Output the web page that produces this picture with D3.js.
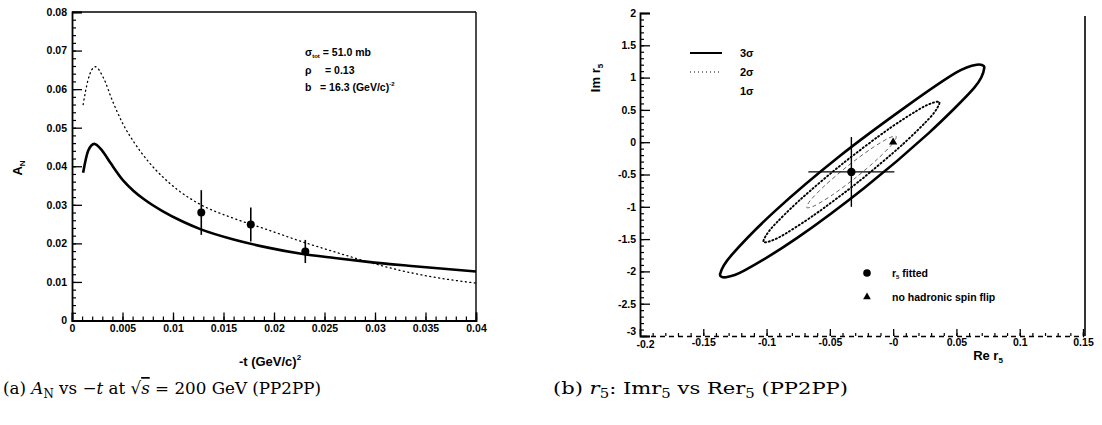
<!DOCTYPE html>
<html><head><meta charset="utf-8">
<script src="https://cdn.jsdelivr.net/npm/d3@7"></script>
<style>
body{margin:0;background:#fff;}
svg{display:block;}
.tk text{font-family:"Liberation Sans",Arial,sans-serif;font-weight:bold;font-size:10.5px;fill:#000;}
.lbl{font-family:"Liberation Sans",Arial,sans-serif;font-weight:bold;fill:#000;}
.cap{font-family:"DejaVu Serif","Liberation Serif",serif;font-size:17px;fill:#000;}
</style></head><body>
<script>
// ---------- Panel (a): A_N vs -t ----------
const aXTicks = [0,0.005,0.01,0.015,0.02,0.025,0.03,0.035,0.04];
const aXTickLabels = ["0","0.005","0.01","0.015","0.02","0.025","0.03","0.035","0.04"];
const aYTicks = [0,0.01,0.02,0.03,0.04,0.05,0.06,0.07,0.08];
const aYTickLabels = ["0","0.01","0.02","0.03","0.04","0.05","0.06","0.07","0.08"];
// theory curve (solid)
const curveSolid = [[0.0011,0.0383],[0.0016,0.0440],[0.0022,0.0458],[0.0030,0.0440],[0.0038,0.0409],[0.0051,0.0362],[0.0061,0.0336],[0.0071,0.0315],[0.0090,0.0283],[0.0110,0.0256],[0.0127,0.0237],[0.0160,0.0210],[0.0194,0.0189],[0.0227,0.0173],[0.0260,0.0162],[0.0293,0.0152],[0.0333,0.0142],[0.0368,0.0134],[0.0400,0.0127]];
// theory curve (dotted)
const curveDotted = [[0.0011,0.0560],[0.0016,0.0625],[0.0023,0.0658],[0.0031,0.0630],[0.0040,0.0570],[0.0050,0.0512],[0.0062,0.0460],[0.0075,0.0414],[0.0090,0.0372],[0.0105,0.0338],[0.0127,0.0301],[0.0160,0.0265],[0.0194,0.0235],[0.0227,0.0205],[0.0260,0.0178],[0.0293,0.0152],[0.0325,0.0130],[0.0357,0.0113],[0.0400,0.0097]];
// measured points
const ptT = [0.0128,0.0177,0.0231];
const ptAN = [0.0280,0.0249,0.0179];
const ptErr = [0.0058,0.0044,0.0030];
const annot = ["σ","tot"," = 51.0 mb","ρ","= 0.13","b","= 16.3 (GeV/c)","-2"];

// ---------- Panel (b): Im r5 vs Re r5 ----------
const bXTicks = [-0.2,-0.15,-0.1,-0.05,0,0.05,0.1,0.15];
const bXTickLabels = ["-0.2","-0.15","-0.1","-0.05","-0","0.05","0.1","0.15"];
const bYTicks = [2,1.5,1,0.5,0,-0.5,-1,-1.5,-2,-2.5,-3];
const bYTickLabels = ["2","1.5","1","0.5","0","-0.5","-1","-1.5","-2","-2.5","-3"];
const contour3 = [[0.0720,1.150],[0.0640,0.840],[0.0281,0.141],[-0.0226,-0.704],[-0.0761,-1.485],[-0.1177,-1.989],[-0.1320,-2.090],[-0.1367,-2.040],[-0.1277,-1.748],[-0.0932,-1.063],[-0.0424,-0.218],[0.0110,0.562],[0.0500,1.080],[0.0660,1.200]];
const contour2 = [[0.0365,0.622],[0.0302,0.404],[0.0069,-0.045],[-0.0270,-0.607],[-0.0625,-1.128],[-0.0900,-1.472],[-0.1024,-1.545],[-0.0960,-1.327],[-0.0728,-0.878],[-0.0389,-0.316],[-0.0034,0.206],[0.0242,0.550]];
const contour1 = [[0.0024,0.090],[-0.0005,-0.025],[-0.0123,-0.260],[-0.0294,-0.546],[-0.0476,-0.811],[-0.0618,-0.981],[-0.0682,-1.012],[-0.0653,-0.898],[-0.0536,-0.664],[-0.0364,-0.376],[-0.0183,-0.113],[-0.0040,0.059]];
const fitted = {re:-0.033, im:-0.46, reErr:0.034, imErr:0.54};
const noFlip = {re:0.0, im:0.0};
const sigmaLegend = ["3σ","2σ","1σ"];
const markerLegend = ["fitted","no hadronic spin flip"];

const W=1102,H=425;
const svg=d3.select("body").append("svg").attr("width",W).attr("height",H);

// ====== Panel A ======
const xA=d3.scaleLinear().domain([0,0.04]).range([72,476]);
const yA=d3.scaleLinear().domain([0,0.08]).range([320.5,12]);
const gA=svg.append("g");
gA.append("line").attr("x1",xA(0)).attr("x2",xA(0.04)).attr("y1",yA(0.08)).attr("y2",yA(0.08)).attr("stroke","#000").attr("stroke-width",1.4);
gA.append("line").attr("x1",xA(0.04)).attr("x2",xA(0.04)).attr("y1",yA(0.08)).attr("y2",yA(0)).attr("stroke","#000").attr("stroke-width",1.4);
const aXMinor=d3.range(0,41).map(i=>i*0.001);
const aYMinor=d3.range(0,41).map(i=>i*0.002);
gA.append("g").attr("transform",`translate(0,${yA(0)})`)
  .call(d3.axisBottom(xA).tickValues(aXMinor).tickSize(-4).tickFormat(""))
  .call(g=>g.select(".domain").remove()).selectAll("line").attr("stroke-width",1.2);
gA.append("g").attr("transform",`translate(${xA(0)},0)`)
  .call(d3.axisLeft(yA).tickValues(aYMinor).tickSize(-4).tickFormat(""))
  .call(g=>g.select(".domain").remove()).selectAll("line").attr("stroke-width",1.2);
gA.append("g").attr("class","tk").attr("transform",`translate(0,${yA(0)})`)
  .call(d3.axisBottom(xA).tickValues(aXTicks).tickSize(-8).tickPadding(4).tickFormat((d,i)=>aXTickLabels[i]))
  .call(g=>g.select(".domain").attr("stroke-width",1.8))
  .call(g=>g.selectAll("line").attr("stroke-width",1.3));
gA.append("g").attr("class","tk").attr("transform",`translate(${xA(0)},0)`)
  .call(d3.axisLeft(yA).tickValues(aYTicks).tickSize(-10).tickPadding(5).tickFormat((d,i)=>aYTickLabels[i]))
  .call(g=>g.select(".domain").attr("stroke-width",1.8))
  .call(g=>g.selectAll("line").attr("stroke-width",1.3));
const lineA=d3.line().x(d=>xA(d[0])).y(d=>yA(d[1])).curve(d3.curveMonotoneX);
gA.append("path").attr("d",lineA(curveDotted)).attr("fill","none").attr("stroke","#000").attr("stroke-width",1.3).attr("stroke-dasharray","1,3.5").attr("stroke-linecap","round");
gA.append("path").attr("d",lineA(curveSolid)).attr("fill","none").attr("stroke","#000").attr("stroke-width",2.6).attr("stroke-linejoin","round");
ptT.forEach((t,i)=>{
  gA.append("line").attr("x1",xA(t)).attr("x2",xA(t)).attr("y1",yA(ptAN[i]+ptErr[i])).attr("y2",yA(ptAN[i]-ptErr[i])).attr("stroke","#000").attr("stroke-width",1.6);
  gA.append("circle").attr("cx",xA(t)).attr("cy",yA(ptAN[i])).attr("r",4).attr("fill","#000");
});
const an=gA.append("text").attr("class","lbl").attr("font-size",10.5);
an.append("tspan").attr("x",305).attr("y",56).text(annot[0]);
an.append("tspan").attr("dy",2).attr("font-size",6).text(annot[1]);
an.append("tspan").attr("dy",-2).text(annot[2]);
gA.append("text").attr("class","lbl").attr("font-size",10.5).attr("x",305).attr("y",74).text(annot[3]);
gA.append("text").attr("class","lbl").attr("font-size",10.5).attr("x",325).attr("y",74).text(annot[4]);
gA.append("text").attr("class","lbl").attr("font-size",10.5).attr("x",305).attr("y",91).text(annot[5]);
const an3=gA.append("text").attr("class","lbl").attr("font-size",10.5);
an3.append("tspan").attr("x",320).attr("y",91).text(annot[6]);
an3.append("tspan").attr("dy",-5).attr("font-size",6).text(annot[7]);
const xt=gA.append("text").attr("class","lbl").attr("font-size",13).attr("text-anchor","middle");
xt.append("tspan").attr("x",270).attr("y",366).text("-t (GeV/c)");
xt.append("tspan").attr("dy",-6).attr("font-size",8).text("2");
const yt=gA.append("text").attr("class","lbl").attr("font-size",13).attr("text-anchor","middle").attr("transform","translate(22,168) rotate(-90)");
yt.append("tspan").text("A");
yt.append("tspan").attr("dy",3).attr("font-size",8).text("N");

// ====== Panel B ======
const xB=d3.scaleLinear().domain([-0.2,0.15]).range([640,1083]);
const yB=d3.scaleLinear().domain([-3,2]).range([336,13]);
const gB=svg.append("g");
gB.append("line").attr("x1",xB(0.15)+2).attr("x2",xB(0.15)+2).attr("y1",16).attr("y2",yB(-3)).attr("stroke","#000").attr("stroke-width",1.6);
const bXMinor=d3.range(0,36).map(i=>-0.2+i*0.01);
const bYMinor=d3.range(0,51).map(i=>-3+i*0.1);
gB.append("g").attr("transform",`translate(0,${yB(-3)})`)
  .call(d3.axisBottom(xB).tickValues(bXMinor).tickSize(-3).tickFormat(""))
  .call(g=>g.select(".domain").remove()).selectAll("line").attr("stroke-width",1.2);
gB.append("g").attr("transform",`translate(${xB(-0.2)},0)`)
  .call(d3.axisLeft(yB).tickValues(bYMinor).tickSize(-4).tickFormat(""))
  .call(g=>g.select(".domain").remove()).selectAll("line").attr("stroke-width",1.2);
gB.append("g").attr("class","tk").attr("transform",`translate(0,${yB(-3)})`)
  .call(d3.axisBottom(xB).tickValues(bXTicks).tickSize(-7).tickPadding(3).tickFormat((d,i)=>bXTickLabels[i]))
  .call(g=>g.select(".domain").attr("stroke-width",1.5).attr("stroke-dasharray","5,4"))
  .call(g=>g.selectAll("line").attr("stroke-width",1.3))
  .call(g=>g.selectAll(".tick text").filter((d,i)=>i===0).attr("dx",5).attr("y",5));
gB.append("g").attr("class","tk").attr("transform",`translate(${xB(-0.2)},0)`)
  .call(d3.axisLeft(yB).tickValues(bYTicks).tickSize(-10).tickPadding(4).tickFormat((d,i)=>bYTickLabels[i]))
  .call(g=>g.select(".domain").attr("stroke-width",1.8))
  .call(g=>g.selectAll("line").attr("stroke-width",1.3))
  .call(g=>g.selectAll(".tick text").filter(d=>d===-3).attr("dy","-0.1em"));
const lineB=d3.line().x(d=>xB(d[0])).y(d=>yB(d[1])).curve(d3.curveCardinalClosed.tension(0.2));
gB.append("path").attr("d",lineB(contour1)).attr("fill","none").attr("stroke","#555").attr("stroke-width",0.9).attr("stroke-dasharray","4,3");
gB.append("path").attr("d",lineB(contour2)).attr("fill","none").attr("stroke","#000").attr("stroke-width",1.9).attr("stroke-dasharray","1.2,2.6").attr("stroke-linecap","round");
gB.append("path").attr("d",lineB(contour3)).attr("fill","none").attr("stroke","#000").attr("stroke-width",2.6).attr("stroke-linejoin","round");
gB.append("line").attr("x1",xB(fitted.re-fitted.reErr)).attr("x2",xB(fitted.re+fitted.reErr)).attr("y1",yB(fitted.im)).attr("y2",yB(fitted.im)).attr("stroke","#000").attr("stroke-width",1.2);
gB.append("line").attr("x1",xB(fitted.re)).attr("x2",xB(fitted.re)).attr("y1",yB(fitted.im+fitted.imErr)).attr("y2",yB(fitted.im-fitted.imErr)).attr("stroke","#000").attr("stroke-width",1.4);
gB.append("circle").attr("cx",xB(fitted.re)).attr("cy",yB(fitted.im)).attr("r",4.2).attr("fill","#000");
gB.append("path").attr("d",d3.symbol(d3.symbolTriangle,30)()).attr("transform",`translate(${xB(noFlip.re)},${yB(noFlip.im)})`).attr("fill","#000");
const legY=[53,72,91];
gB.append("line").attr("x1",690).attr("x2",722).attr("y1",legY[0]).attr("y2",legY[0]).attr("stroke","#000").attr("stroke-width",2);
gB.append("line").attr("x1",690).attr("x2",722).attr("y1",legY[1]).attr("y2",legY[1]).attr("stroke","#000").attr("stroke-width",1).attr("stroke-dasharray","1,3");
sigmaLegend.forEach((s,i)=>{
  gB.append("text").attr("class","lbl").attr("font-size",11).attr("x",740).attr("y",legY[i]+4).text(s);
});
gB.append("circle").attr("cx",867).attr("cy",273).attr("r",3.8).attr("fill","#000");
gB.append("path").attr("d",d3.symbol(d3.symbolTriangle,26)()).attr("transform","translate(867,297)").attr("fill","#000");
const ml=gB.append("text").attr("class","lbl").attr("font-size",10.5);
ml.append("tspan").attr("x",892).attr("y",277).text("r");
ml.append("tspan").attr("dy",2).attr("font-size",6).text("5");
ml.append("tspan").attr("dy",-2).text(" "+markerLegend[0]);
gB.append("text").attr("class","lbl").attr("font-size",10.5).attr("x",892).attr("y",301).text(markerLegend[1]);
const bxt=gB.append("text").attr("class","lbl").attr("font-size",13).attr("text-anchor","middle");
bxt.append("tspan").attr("x",988).attr("y",360).text("Re r");
bxt.append("tspan").attr("dy",3).attr("font-size",8).text("5");
const byt=gB.append("text").attr("class","lbl").attr("font-size",13).attr("text-anchor","middle").attr("transform","translate(600,78) rotate(-90)");
byt.append("tspan").text("Im r");
byt.append("tspan").attr("dy",3).attr("font-size",8).text("5");

// ====== Captions ======
const ca=svg.append("text").attr("class","cap").attr("x",3).attr("y",394).attr("textLength",318).attr("lengthAdjust","spacingAndGlyphs");
ca.append("tspan").text("(a) ");
ca.append("tspan").attr("font-style","italic").text("A");
ca.append("tspan").attr("dy",4).attr("font-size",12).text("N");
ca.append("tspan").attr("dy",-4).text(" vs −");
ca.append("tspan").attr("font-style","italic").text("t");
ca.append("tspan").text(" at √");
ca.append("tspan").attr("font-style","italic").attr("text-decoration","overline").text("s");
ca.append("tspan").text(" = 200 GeV (PP2PP)");
const cb=svg.append("text").attr("class","cap").attr("x",553).attr("y",394).attr("textLength",295).attr("lengthAdjust","spacingAndGlyphs");
cb.append("tspan").text("(b) ");
cb.append("tspan").attr("font-style","italic").text("r");
cb.append("tspan").attr("dy",4).attr("font-size",12).text("5");
cb.append("tspan").attr("dy",-4).text(": Imr");
cb.append("tspan").attr("dy",4).attr("font-size",12).text("5");
cb.append("tspan").attr("dy",-4).text(" vs Rer");
cb.append("tspan").attr("dy",4).attr("font-size",12).text("5");
cb.append("tspan").attr("dy",-4).text(" (PP2PP)");
</script>
</body></html>
